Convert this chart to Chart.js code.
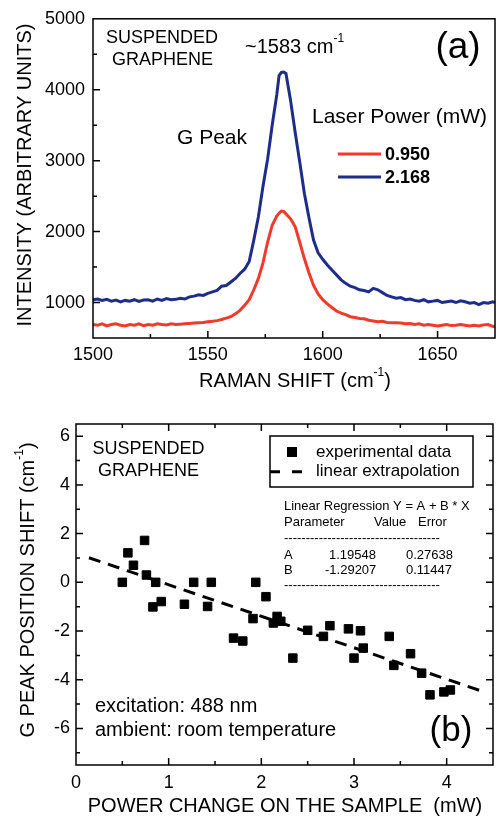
<!DOCTYPE html>
<html>
<head>
<meta charset="utf-8">
<script src="https://cdn.jsdelivr.net/npm/chart.js@4.4.1/dist/chart.umd.min.js"></script>
<style>
  body { margin: 0; background: #fff; }
  #wrap { position: relative; width: 501px; height: 819px; }
  canvas { position: absolute; left: 0; }
  #chartA { top: 0; }
  #chartB { top: 400px; }
</style>
</head>
<body>
<div id="wrap">
  <canvas id="chartA" width="501" height="400"></canvas>
  <canvas id="chartB" width="501" height="419"></canvas>
</div>
<script>
// (a) Raman spectra around the G peak
const ramanShift = [
  1500, 1502, 1504, 1506, 1508, 1510, 1512, 1514, 1516, 1518,
  1520, 1522, 1524, 1526, 1528, 1530, 1532, 1534, 1536, 1538,
  1540, 1542, 1544, 1546, 1548, 1550, 1552, 1554, 1556, 1558,
  1560, 1562, 1564, 1566, 1568, 1570, 1572, 1574, 1576, 1578,
  1580, 1581, 1582, 1583, 1584, 1586, 1588, 1590, 1592, 1594,
  1596, 1598, 1600, 1602, 1604, 1606, 1608, 1610, 1612, 1614,
  1616, 1618, 1620, 1622, 1624, 1626, 1628, 1630, 1632, 1634,
  1636, 1638, 1640, 1642, 1644, 1646, 1648, 1650, 1652, 1654,
  1656, 1658, 1660, 1662, 1664, 1666, 1668, 1670, 1672, 1674,
  1675
];
const intensityLow = [
  690, 680, 700, 670, 690, 700, 680, 670, 690, 680,
  700, 675, 690, 680, 700, 690, 685, 700, 690, 695,
  700, 705, 710, 715, 720, 730, 735, 745, 760, 780,
  800, 840, 890, 960, 1040, 1180, 1340, 1560, 1850, 2090,
  2220, 2260, 2290, 2285, 2250, 2180, 2070, 1850, 1620, 1420,
  1240, 1120, 1040, 980, 930, 880, 850, 830, 800, 790,
  775, 770, 750, 740, 730, 735, 720, 715, 715, 710,
  700, 705, 690, 700, 680, 690, 680, 670, 680, 690,
  675, 680, 690, 680, 670, 680, 670, 685, 690, 665,
  660
];
const intensityHigh = [
  1040, 1050, 1030, 1045, 1020, 1035, 1010, 1030, 1020, 1040,
  1015, 1035, 1040, 1020, 1050, 1030, 1055, 1040, 1045, 1060,
  1050, 1080, 1090, 1110, 1100, 1130, 1150, 1170, 1230, 1240,
  1290, 1340, 1410, 1470, 1580, 1880, 2210, 2640, 3020, 3500,
  3930, 4200, 4245, 4250, 4230, 3850, 3400, 2980, 2540, 2200,
  1880, 1700, 1610, 1530, 1460, 1390, 1320, 1270, 1230, 1210,
  1180, 1170, 1150, 1200, 1180, 1140, 1100, 1080, 1060, 1070,
  1040, 1050, 1030, 1020, 1040, 1010, 1020, 1030, 1000, 1010,
  1020, 1000, 1025, 1010, 990, 1000, 970, 1000, 990, 1010,
  1000
];
const laserPowers = ['0.950', '2.168'];
const ramanLabels = [1500, 1550, 1600, 1650];
const intensityLabels = [1000, 2000, 3000, 4000, 5000];

// (b) G peak shift vs power
const powerChange = [
  0.50, 0.56, 0.62, 0.74, 0.76, 0.83, 0.86, 0.92, 1.17, 1.27,
  1.42, 1.46, 1.70, 1.80, 1.91, 1.94, 2.05, 2.13, 2.17, 2.21,
  2.34, 2.50, 2.67, 2.74, 2.94, 3.00, 3.07, 3.10, 3.38, 3.43,
  3.61, 3.73, 3.82, 3.97, 4.04
];
const peakShift = [
  0.00, 1.21, 0.70, 1.72, 0.30, -1.01, 0.00, -0.79, -0.90, 0.00,
  -0.99, 0.00, -2.29, -2.41, -1.49, 0.00, -0.59, -1.67, -1.40, -1.60,
  -3.11, -1.97, -2.22, -1.78, -1.91, -3.11, -1.99, -2.70, -2.22, -3.41,
  -2.93, -3.73, -4.62, -4.50, -4.42
];
const fitPower = [0.14, 4.42];
const fitShift = [1.01, -4.52];
const regressionRows = [['A', '1.19548', '0.27638'], ['B', '-1.29207', '0.11447']];
const powerLabels = [0, 1, 2, 3, 4];
const shiftLabels = [-6, -4, -2, 0, 2, 4, 6];

const FONT = '"Liberation Sans", Arial, sans-serif';
const RED = '#ee3b2b';
const BLUE = '#1f2d8a';

function pick(labels) {
  return function (value) {
    const hit = labels.find(l => Math.abs(l - value) < 1e-6);
    return hit === undefined ? '' : String(hit);
  };
}

function font(size, bold) {
  return (bold ? 'bold ' : '') + size + 'px ' + FONT;
}

// parts: [text, isSuperscript]
function richText(ctx, parts, x, y, size, align) {
  let w = 0;
  parts.forEach(p => {
    ctx.font = font(p[1] ? Math.round(size * 0.6) : size);
    w += ctx.measureText(p[0]).width;
  });
  let cx = align === 'center' ? x - w / 2 : x;
  ctx.textAlign = 'left';
  ctx.textBaseline = 'middle';
  parts.forEach(p => {
    ctx.font = font(p[1] ? Math.round(size * 0.6) : size);
    ctx.fillText(p[0], cx, p[1] ? y - size * 0.42 : y);
    cx += ctx.measureText(p[0]).width;
  });
}

function text(ctx, str, x, y, size, align, bold) {
  ctx.font = font(size, bold);
  ctx.textAlign = align || 'left';
  ctx.textBaseline = 'middle';
  ctx.fillText(str, x, y);
}

function frameTicks(sides) {
  return {
    id: 'frameTicks',
    afterDatasetsDraw(chart) {
      const ctx = chart.ctx;
      const a = chart.chartArea;
      const xs = chart.scales.x;
      const ys = chart.scales.y;
      ctx.save();
      ctx.strokeStyle = '#000';
      ctx.lineWidth = 1.5;
      ctx.strokeRect(a.left, a.top, a.right - a.left, a.bottom - a.top);
      ctx.beginPath();
      xs.ticks.forEach(t => {
        const px = xs.getPixelForValue(t.value);
        const len = t.label ? 7 : 4;
        if (px <= a.left + 1 || px >= a.right - 1) return;
        if (sides.includes('bottom')) { ctx.moveTo(px, a.bottom); ctx.lineTo(px, a.bottom - len); }
        if (sides.includes('top')) { ctx.moveTo(px, a.top); ctx.lineTo(px, a.top + len); }
      });
      ys.ticks.forEach(t => {
        const py = ys.getPixelForValue(t.value);
        const len = t.label ? 7 : 4;
        if (py <= a.top + 1 || py >= a.bottom - 1) return;
        if (sides.includes('left')) { ctx.moveTo(a.left, py); ctx.lineTo(a.left + len, py); }
        if (sides.includes('right')) { ctx.moveTo(a.right, py); ctx.lineTo(a.right - len, py); }
      });
      ctx.stroke();
      ctx.restore();
    }
  };
}

const notesA = {
  id: 'notesA',
  afterDraw(chart) {
    const ctx = chart.ctx;
    ctx.save();
    ctx.fillStyle = '#000';
    ctx.save();
    ctx.translate(25, 175);
    ctx.rotate(-Math.PI / 2);
    text(ctx, 'INTENSITY (ARBITRARY UNITS)', 0, 0, 20, 'center');
    ctx.restore();
    richText(ctx, [['RAMAN SHIFT (cm', false], ['-1', true], [')', false]], 295, 381.5, 20, 'center');
    text(ctx, 'SUSPENDED', 162, 38.5, 18, 'center');
    text(ctx, 'GRAPHENE', 162.5, 60, 18, 'center');
    richText(ctx, [['~1583 cm', false], ['-1', true]], 245, 47.5, 20, 'left');
    text(ctx, '(a)', 458, 48, 37, 'center');
    text(ctx, 'G Peak', 177, 138, 21, 'left');
    text(ctx, 'Laser Power (mW)', 312, 117, 21, 'left');
    [RED, BLUE].forEach((c, i) => {
      const y = 154 + i * 23;
      ctx.strokeStyle = c;
      ctx.lineWidth = 3;
      ctx.beginPath();
      ctx.moveTo(338, y);
      ctx.lineTo(381, y);
      ctx.stroke();
      text(ctx, laserPowers[i], 385, y + 1, 18, 'left', true);
    });
    ctx.restore();
  }
};

const notesB = {
  id: 'notesB',
  afterDraw(chart) {
    const ctx = chart.ctx;
    ctx.save();
    ctx.fillStyle = '#000';
    ctx.save();
    ctx.translate(28, 190);
    ctx.rotate(-Math.PI / 2);
    richText(ctx, [['G PEAK POSITION SHIFT (cm', false], ['-1', true], [')', false]], 0, 0, 20, 'center');
    ctx.restore();
    text(ctx, 'POWER CHANGE ON THE SAMPLE  (mW)', 285, 406, 20, 'center');
    text(ctx, 'SUSPENDED', 148.5, 49, 18, 'center');
    text(ctx, 'GRAPHENE', 148.5, 71.5, 18, 'center');

    // legend box
    ctx.strokeStyle = '#000';
    ctx.lineWidth = 1.5;
    ctx.strokeRect(270, 36, 203, 51);
    ctx.fillRect(287, 47, 10, 10);
    ctx.lineWidth = 3;
    ctx.setLineDash([10, 12]);
    ctx.beginPath();
    ctx.moveTo(270, 71.7);
    ctx.lineTo(302, 71.7);
    ctx.stroke();
    ctx.setLineDash([]);
    text(ctx, 'experimental data', 316, 52, 17, 'left');
    text(ctx, 'linear extrapolation', 316, 71.7, 17, 'left');

    // regression table
    text(ctx, 'Linear Regression Y = A + B * X', 284, 106.7, 13, 'left');
    text(ctx, 'Parameter', 284, 122.5, 13, 'left');
    text(ctx, 'Value', 374, 122.5, 13, 'left');
    text(ctx, 'Error', 418, 122.5, 13, 'left');
    const dashes = '-'.repeat(36);
    text(ctx, dashes, 284, 138.3, 13, 'left');
    regressionRows.forEach((r, i) => {
      const y = 155.8 + i * 14.7;
      text(ctx, r[0], 284, y, 13, 'left');
      text(ctx, r[1], r[1][0] === '-' ? 325 : 329, y, 13, 'left');
      text(ctx, r[2], 406, y, 13, 'left');
    });
    text(ctx, dashes, 284, 185.7, 13, 'left');

    text(ctx, 'excitation: 488 nm', 95, 306.7, 20, 'left');
    text(ctx, 'ambient: room temperature', 95, 330, 20, 'left');
    text(ctx, '(b)', 451, 331.7, 35, 'center');
    ctx.restore();
  }
};

function axis(min, max, step, labels, size, pad, fitSize, vertical) {
  return {
    type: 'linear',
    min: min,
    max: max,
    grid: { display: false, drawTicks: false },
    border: { display: false },
    ticks: {
      autoSkip: false,
      maxRotation: 0,
      padding: pad,
      color: '#000',
      font: { family: FONT, size: size },
      callback: pick(labels)
    },
    afterBuildTicks(scale) {
      // ticks on whole multiples of the step, labels only where listed
      const out = [];
      for (let k = Math.ceil(min / step - 1e-9); k * step <= max + 1e-9; k++) {
        out.push({ value: Math.round(k * step * 1000) / 1000 });
      }
      scale.ticks = out;
    },
    afterFit(scale) {
      if (vertical) scale.width = fitSize; else scale.height = fitSize;
    }
  };
}

new Chart(document.getElementById('chartA'), {
  type: 'line',
  data: {
    datasets: [
      {
        label: laserPowers[0],
        data: ramanShift.map((x, i) => ({ x: x, y: intensityLow[i] })),
        borderColor: RED,
        borderWidth: 3,
        pointRadius: 0,
        tension: 0
      },
      {
        label: laserPowers[1],
        data: ramanShift.map((x, i) => ({ x: x, y: intensityHigh[i] })),
        borderColor: BLUE,
        borderWidth: 3,
        pointRadius: 0,
        tension: 0
      }
    ]
  },
  options: {
    responsive: false,
    animation: false,
    devicePixelRatio: 1,
    layout: { padding: { top: 14, right: 1, left: 0, bottom: 0 } },
    plugins: { legend: { display: false }, tooltip: { enabled: false } },
    scales: {
      x: axis(1500, 1675, 25, ramanLabels, 18, 6, 62, false),
      y: axis(500, 5000, 500, intensityLabels, 18, 8, 93, true)
    }
  },
  plugins: [frameTicks(['left', 'bottom']), notesA]
});

new Chart(document.getElementById('chartB'), {
  type: 'scatter',
  data: {
    datasets: [
      {
        label: 'experimental data',
        data: powerChange.map((x, i) => ({ x: x, y: peakShift[i] })),
        backgroundColor: '#000',
        borderColor: '#000',
        borderWidth: 1,
        pointStyle: 'rect',
        pointRadius: 6
      },
      {
        label: 'linear extrapolation',
        type: 'line',
        data: fitPower.map((x, i) => ({ x: x, y: fitShift[i] })),
        borderColor: '#000',
        borderWidth: 3,
        borderDash: [12, 8],
        pointRadius: 0,
        showLine: true
      }
    ]
  },
  options: {
    responsive: false,
    animation: false,
    devicePixelRatio: 1,
    layout: { padding: { top: 24, right: 8, left: 0, bottom: 0 } },
    plugins: { legend: { display: false }, tooltip: { enabled: false } },
    scales: {
      x: axis(0, 4.5, 0.5, powerLabels, 18, 7, 54, false),
      y: axis(-7.5, 6.5, 1, shiftLabels, 18, 6, 76, true)
    }
  },
  plugins: [frameTicks(['left', 'bottom', 'top', 'right']), notesB]
});
</script>
</body>
</html>
